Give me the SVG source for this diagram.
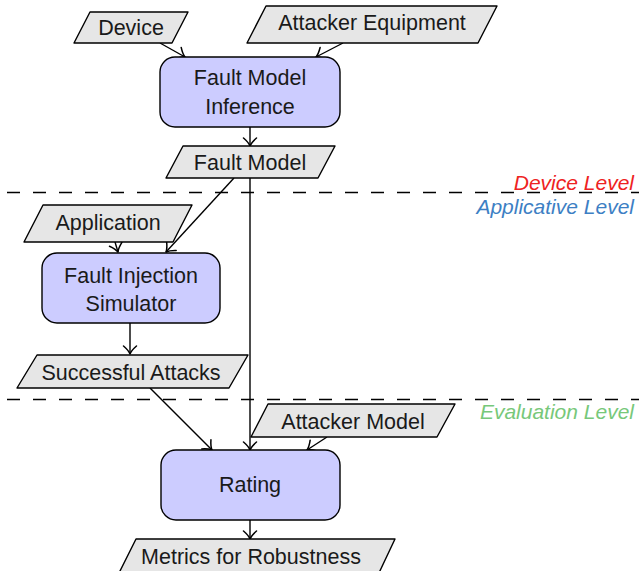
<svg xmlns="http://www.w3.org/2000/svg" width="639" height="571" viewBox="0 0 639 571">
  <defs>
    <marker id="tip" markerUnits="userSpaceOnUse" markerWidth="16" markerHeight="16" viewBox="-9 -8 10 16" refX="0" refY="0" orient="auto" overflow="visible">
      <path d="M -8 -6.5 C -4.5 -2.5 -2 -0.8 0 0 C -2 0.8 -4.5 2.5 -8 6.5" fill="none" stroke="#000" stroke-width="1.5" stroke-linecap="round" stroke-linejoin="round"/>
    </marker>
  </defs>
  <style>
    text { font-family: "Liberation Sans", Arial, sans-serif; font-size: 21.5px; fill: #1a1a1a; text-anchor: middle; }
    .io { fill: #e6e6e6; stroke: #000; stroke-width: 1.4; stroke-linejoin: round; }
    .proc { fill: #ccccff; stroke: #000; stroke-width: 1.4; }
    .edge { fill: none; stroke: #000; stroke-width: 1.4; marker-end: url(#tip); }
    .sep { fill: none; stroke: #000; stroke-width: 1.4; stroke-dasharray: 13 13; }
    .lvl { font-style: italic; text-anchor: end; font-size: 21px; }
  </style>

  <!-- level separators -->
  <g id="levels">
    <line class="sep" x1="7" y1="192.5" x2="639" y2="192.5"/>
    <line class="sep" x1="7" y1="399.5" x2="639" y2="399.5"/>
    <text class="lvl" x="634" y="190" style="fill:#ee2222">Device Level</text>
    <text class="lvl" x="634" y="214" style="fill:#3d7fc4">Applicative Level</text>
    <text class="lvl" x="634" y="419" style="fill:#77c87a">Evaluation Level</text>
  </g>

  <!-- connectors -->
  <g id="connectors">
    <line class="edge" x1="160" y1="43" x2="185" y2="57"/>
    <line class="edge" x1="343" y1="43" x2="316" y2="57"/>
    <line class="edge" x1="250" y1="127" x2="250" y2="146"/>
    <line class="edge" x1="250" y1="178" x2="250" y2="450"/>
    <line class="edge" x1="234" y1="178" x2="166" y2="252"/>
    <line class="edge" x1="115" y1="242" x2="118" y2="252"/>
    <line class="edge" x1="130" y1="323" x2="130" y2="354"/>
    <line class="edge" x1="150" y1="388" x2="212" y2="450"/>
    <line class="edge" x1="327" y1="437" x2="307" y2="450"/>
    <line class="edge" x1="250" y1="520" x2="250" y2="539"/>
  </g>

  <g id="device">
    <polygon class="io" points="90,12 188,12 172,43 74,43"/>
    <text x="131" y="35">Device</text>
  </g>

  <g id="attacker-equipment">
    <polygon class="io" points="266,6 497,6 478,43 247,43"/>
    <text x="372" y="30">Attacker Equipment</text>
  </g>

  <g id="fault-model-inference">
    <rect class="proc" x="160" y="57" width="180" height="70" rx="15" ry="15"/>
    <text x="250" y="85">Fault Model</text>
    <text x="250" y="114">Inference</text>
  </g>

  <g id="fault-model">
    <polygon class="io" points="183,146 335,146 318,178 166,178"/>
    <text x="250" y="170">Fault Model</text>
  </g>

  <g id="application">
    <polygon class="io" points="43,205 192,205 173,242 24,242"/>
    <text x="108" y="230">Application</text>
  </g>

  <g id="fault-injection-simulator">
    <rect class="proc" x="42" y="253" width="178" height="70" rx="15" ry="15"/>
    <text x="131" y="283">Fault Injection</text>
    <text x="131" y="311">Simulator</text>
  </g>

  <g id="successful-attacks">
    <polygon class="io" points="37,355 248,355 229,388 17,388"/>
    <text x="131" y="380">Successful Attacks</text>
  </g>

  <g id="attacker-model">
    <polygon class="io" points="268,404 455,404 437,437 251,437"/>
    <text x="353" y="429">Attacker Model</text>
  </g>

  <g id="rating">
    <rect class="proc" x="161" y="450" width="179" height="70" rx="15" ry="15"/>
    <text x="250" y="492">Rating</text>
  </g>

  <g id="metrics">
    <polygon class="io" points="136,539 395,539 378,575 118,575"/>
    <text x="251" y="564">Metrics for Robustness</text>
  </g>
</svg>
